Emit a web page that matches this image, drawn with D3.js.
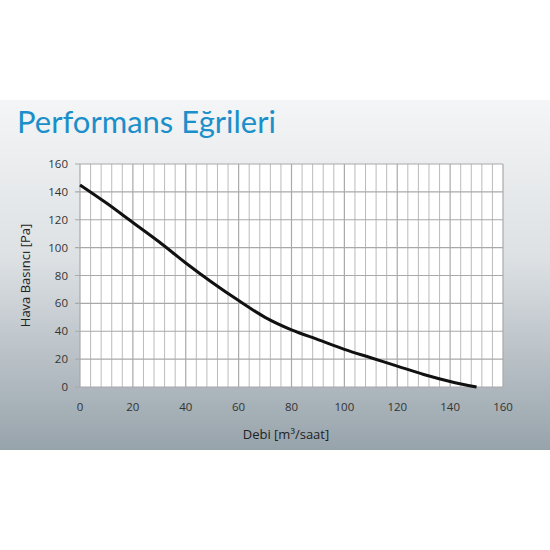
<!DOCTYPE html>
<html>
<head>
<meta charset="utf-8">
<script src="https://cdn.jsdelivr.net/npm/d3@7"></script>
<style>
  body { margin: 0; background: #fff; }
  text { font-family: "Open Sans", "DejaVu Sans", sans-serif; }
</style>
</head>
<body>
<svg id="chart" width="550" height="550"></svg>
<script>
// curve values
var debi = [0, 10, 20, 30, 40, 50, 60, 70, 80, 90, 100, 110, 120, 130, 140, 150];
var basinc = [145, 132, 118, 104, 89, 75, 62, 50, 41, 34, 27, 21, 15, 9, 4, 0];
var xTicks = [0, 20, 40, 60, 80, 100, 120, 140, 160];
var yTicks = [0, 20, 40, 60, 80, 100, 120, 140, 160];

var svg = d3.select("#chart");
var defs = svg.append("defs");
var grad = defs.append("linearGradient").attr("id", "bg").attr("x1", 0).attr("y1", 0).attr("x2", 0).attr("y2", 1);
grad.append("stop").attr("offset", "0%").attr("stop-color", "#f4f5f6");
grad.append("stop").attr("offset", "45%").attr("stop-color", "#dde1e4");
grad.append("stop").attr("offset", "100%").attr("stop-color", "#97a3ab");
svg.append("rect").attr("x", 0).attr("y", 100).attr("width", 550).attr("height", 350).attr("fill", "url(#bg)");

svg.append("text").attr("x", 17).attr("y", 133).attr("fill", "#1b8fc9")
  .attr("font-size", 31).style("font-family", "Lato, 'Open Sans', sans-serif").text("Performans Eğrileri");

var x = d3.scaleLinear().domain([0, 160]).range([80, 503]);
var y = d3.scaleLinear().domain([0, 160]).range([387, 164]);

svg.append("rect").attr("x", x(0)).attr("y", y(160)).attr("width", x(160) - x(0)).attr("height", y(0) - y(160)).attr("fill", "#fff");

var g = svg.append("g");
g.selectAll(".vx").data(d3.range(0, 161, 4)).join("line")
  .attr("x1", d => x(d)).attr("x2", d => x(d)).attr("y1", y(0)).attr("y2", y(160))
  .attr("stroke", "#a9a9a9").attr("stroke-width", d => d % 20 === 0 ? 1.2 : 0.8);
g.selectAll(".hy").data(yTicks).join("line")
  .attr("x1", x(0) - 5).attr("x2", x(160)).attr("y1", d => y(d)).attr("y2", d => y(d))
  .attr("stroke", "#a9a9a9").attr("stroke-width", 1.2);

svg.selectAll(".xl").data(xTicks).join("text")
  .attr("x", d => x(d)).attr("y", 411).attr("text-anchor", "middle")
  .attr("font-size", 11.5).attr("fill", "#333").text(d => d);
svg.selectAll(".yl").data(yTicks).join("text")
  .attr("x", 68).attr("y", d => y(d) + 4).attr("text-anchor", "end")
  .attr("font-size", 11.5).attr("fill", "#333").text(d => d);

svg.append("text").attr("x", 286).attr("y", 439).attr("text-anchor", "middle")
  .attr("font-size", 13).attr("fill", "#222").text("Debi [m³/saat]");
svg.append("text").attr("transform", "translate(30," + y(80) + ") rotate(-90)").attr("text-anchor", "middle")
  .attr("font-size", 13).attr("fill", "#222").text("Hava Basıncı [Pa]");

var line = d3.line().x((d, i) => x(debi[i])).y(d => y(d)).curve(d3.curveMonotoneX);
svg.append("path").attr("d", line(basinc)).attr("fill", "none").attr("stroke", "#111").attr("stroke-width", 3);
</script>
</body>
</html>
